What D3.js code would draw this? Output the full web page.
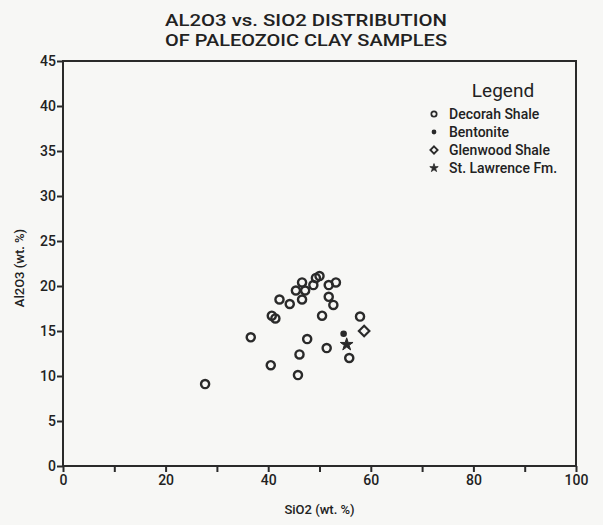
<!DOCTYPE html>
<html>
<head>
<meta charset="utf-8">
<script src="https://cdn.jsdelivr.net/npm/d3@7"></script>
<style>
  body { margin: 0; background: #f7f7f5; }
  text { font-family: Roboto, "DejaVu Sans", sans-serif; fill: #222; }
</style>
</head>
<body>
<svg width="603" height="525"></svg>
<script>
// data (SiO2, Al2O3 in wt. %)
let decorahSiO2  = [27.7, 36.6, 40.5, 40.7, 41.4, 42.2, 44.2, 45.4, 46.6, 47.2, 46.6, 48.8, 49.3, 50.0, 51.8, 53.2, 51.8, 52.7, 50.5, 57.9, 47.6, 51.4, 46.1, 45.8, 55.8];
let decorahAl2O3 = [9.1, 14.3, 11.2, 16.7, 16.4, 18.5, 18.0, 19.5, 20.4, 19.5, 18.5, 20.1, 20.9, 21.1, 20.1, 20.4, 18.8, 17.9, 16.7, 16.6, 14.1, 13.1, 12.4, 10.1, 12.0];
let bentoniteSiO2 = [54.7];
let bentoniteAl2O3 = [14.7];
let glenwoodSiO2 = [58.7];
let glenwoodAl2O3 = [15.0];
let stLawrenceSiO2 = [55.3];
let stLawrenceAl2O3 = [13.5];

let legendNames = ["Decorah Shale", "Bentonite", "Glenwood Shale", "St. Lawrence Fm."];
let xTicks = [0, 20, 40, 60, 80, 100];
let xMinor = [10, 30, 50, 70, 90];
let yTicks = [0, 5, 10, 15, 20, 25, 30, 35, 40, 45];

let svg = d3.select("svg");
let ink = "#2a2a2a";

let x = d3.scaleLinear().domain([0, 100]).range([63, 576]);
let y = d3.scaleLinear().domain([0, 45]).range([466, 61]);

// title (stretched glyphs, like the plotter font)
svg.append("text").attr("x", 306).attr("y", 26).attr("text-anchor", "middle")
  .attr("font-size", 17).attr("font-weight", 500)
  .attr("textLength", 282).attr("lengthAdjust", "spacingAndGlyphs")
  .text("AL2O3 vs. SIO2 DISTRIBUTION");
svg.append("text").attr("x", 306).attr("y", 46).attr("text-anchor", "middle")
  .attr("font-size", 17).attr("font-weight", 500)
  .attr("textLength", 282).attr("lengthAdjust", "spacingAndGlyphs")
  .text("OF PALEOZOIC CLAY SAMPLES");

// frame
svg.append("rect")
  .attr("x", x(0)).attr("y", y(45))
  .attr("width", x(100) - x(0)).attr("height", y(0) - y(45))
  .attr("fill", "none").attr("stroke", ink).attr("stroke-width", 2);

// axes
let xAxis = svg.append("g").attr("transform", "translate(0," + y(0) + ")")
  .call(d3.axisBottom(x).tickValues(xTicks).tickSize(6).tickPadding(3).tickFormat(d3.format("d")));
let xAxisMinor = svg.append("g").attr("transform", "translate(0," + y(0) + ")")
  .call(d3.axisBottom(x).tickValues(xMinor).tickSize(6).tickFormat(""));
let yAxis = svg.append("g").attr("transform", "translate(" + x(0) + ",0)")
  .call(d3.axisLeft(y).tickValues(yTicks).tickSize(6).tickPadding(1).tickFormat(d3.format("d")));

[xAxis, xAxisMinor, yAxis].forEach(g => {
  g.select(".domain").remove();
  g.selectAll("line").attr("stroke", ink).attr("stroke-width", 2);
  g.selectAll("text").attr("font-size", 14).attr("font-weight", 500)
    .attr("font-family", "Roboto, sans-serif").attr("fill", "#222");
});

// axis titles
svg.append("text").attr("x", x(50)).attr("y", 514).attr("text-anchor", "middle")
  .attr("font-size", 13).attr("font-weight", 500).text("SiO2 (wt. %)");
svg.append("text").attr("transform", "translate(24," + 268 + ") rotate(-90)")
  .attr("text-anchor", "middle").attr("font-size", 13).attr("font-weight", 500)
  .text("Al2O3 (wt. %)");

// symbols
let diamondType = d3.symbolDiamond2 || d3.symbolDiamond;
let circleSym = d3.symbol().type(d3.symbolCircle).size(52);
let dotSym = d3.symbol().type(d3.symbolCircle).size(34);
let diamondSym = d3.symbol().type(diamondType).size(70);
let starSym = d3.symbol().type(d3.symbolStar).size(50);

let series = [
  { xs: decorahSiO2, ys: decorahAl2O3, sym: circleSym, fill: "none", sw: 2.4 },
  { xs: bentoniteSiO2, ys: bentoniteAl2O3, sym: dotSym, fill: ink, sw: 0 },
  { xs: glenwoodSiO2, ys: glenwoodAl2O3, sym: diamondSym, fill: "none", sw: 2.2 },
  { xs: stLawrenceSiO2, ys: stLawrenceAl2O3, sym: starSym, fill: ink, sw: 1 }
];

series.forEach(s => {
  svg.append("g").selectAll("path")
    .data(s.xs.map((v, i) => [v, s.ys[i]]))
    .join("path")
      .attr("transform", d => "translate(" + x(d[0]) + "," + y(d[1]) + ")")
      .attr("d", s.sym)
      .attr("fill", s.fill)
      .attr("stroke", ink)
      .attr("stroke-width", s.sw);
});

// legend
let legend = svg.append("g");
legend.append("text").attr("x", 503).attr("y", 97).attr("text-anchor", "middle")
  .attr("font-size", 19).text("Legend");

let legendSyms = [
  { sym: d3.symbol().type(d3.symbolCircle).size(22), fill: "none", sw: 1.8 },
  { sym: d3.symbol().type(d3.symbolCircle).size(18), fill: ink, sw: 0 },
  { sym: d3.symbol().type(diamondType).size(34), fill: "none", sw: 1.8 },
  { sym: d3.symbol().type(d3.symbolStar).size(22), fill: ink, sw: 0.8 }
];
let rowY = d3.scalePoint().domain(legendNames).range([114, 168]);
legendNames.forEach((name, i) => {
  legend.append("path")
    .attr("transform", "translate(434," + rowY(name) + ")")
    .attr("d", legendSyms[i].sym)
    .attr("fill", legendSyms[i].fill)
    .attr("stroke", ink)
    .attr("stroke-width", legendSyms[i].sw);
  legend.append("text").attr("x", 449).attr("y", rowY(name) + 5)
    .attr("font-size", 14).attr("font-weight", 500).text(name);
});
</script>
</body>
</html>
